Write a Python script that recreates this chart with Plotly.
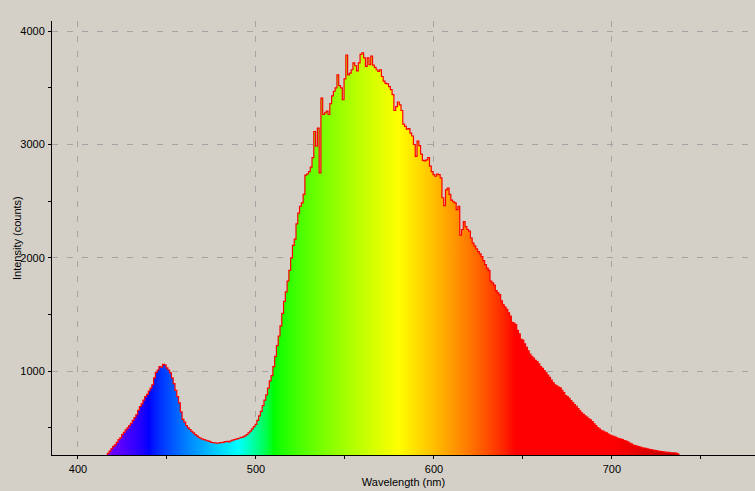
import plotly.graph_objects as go

# Wavelength (nm) and intensity (counts)
wavelength = list(range(416, 739))
intensity = [
    255, 275, 295, 315, 336, 350, 372, 395, 412, 440,            # 416-425
    460, 482, 500, 520, 540, 566, 590, 615, 655, 688,            # 426-435
    712, 745, 775, 795, 825, 850, 880, 940, 990, 1010,           # 436-445
    1040, 1035, 1060, 1055, 1028, 1010, 985, 940, 890, 830,      # 446-455
    775, 720, 640, 575, 550, 520, 500, 485, 468, 455,            # 456-465
    440, 428, 415, 408, 400, 395, 390, 385, 380, 372,            # 466-475
    370, 368, 365, 366, 370, 368, 374, 378, 380, 376,            # 476-485
    384, 392, 396, 400, 405, 410, 415, 420, 428, 440,            # 486-495
    455, 470, 490, 510, 530, 565, 605, 645, 695, 745,            # 496-505
    790, 850, 915, 960, 1040, 1130, 1225, 1310, 1400, 1510,      # 506-515
    1615, 1700, 1795, 1890, 2000, 2110, 2165, 2300, 2395, 2455,  # 516-525
    2485, 2560, 2730, 2740, 2760, 2800, 2885, 3115, 2985, 3145,  # 526-535
    2750, 3410, 3265, 3280, 3295, 3265, 3360, 3430, 3470, 3500,  # 536-545
    3615, 3520, 3500, 3395, 3580, 3790, 3615, 3630, 3660, 3720,  # 546-555
    3695, 3650, 3720, 3795, 3810, 3765, 3690, 3765, 3705, 3780,  # 556-565
    3700, 3680, 3660, 3645, 3660, 3600, 3560, 3540, 3535, 3510,  # 566-575
    3485, 3440, 3300, 3335, 3375, 3350, 3300, 3180, 3160, 3135,  # 576-585
    3140, 3100, 3075, 3000, 2895, 3030, 2990, 2915, 2860, 2855,  # 586-595
    2865, 2885, 2810, 2760, 2735, 2720, 2740, 2735, 2705, 2530,  # 596-605
    2460, 2600, 2615, 2560, 2510, 2495, 2485, 2425, 2455, 2200,  # 606-615
    2250, 2320, 2275, 2250, 2235, 2175, 2130, 2105, 2080, 2055,  # 616-625
    2035, 2010, 1975, 1940, 1910, 1890, 1795, 1780, 1760, 1710,  # 626-635
    1690, 1675, 1620, 1585, 1565, 1545, 1515, 1485, 1430, 1425,  # 636-645
    1410, 1360, 1330, 1280, 1275, 1240, 1210, 1180, 1150, 1130,  # 646-655
    1115, 1095, 1085, 1065, 1040, 1025, 1005, 985, 965, 945,     # 656-665
    920, 898, 880, 870, 860, 852, 830, 810, 785, 775,            # 666-675
    760, 740, 722, 705, 690, 670, 650, 632, 618, 605,            # 676-685
    595, 580, 570, 555, 535, 520, 502, 490, 478, 470,            # 686-695
    462, 455, 445, 435, 428, 424, 418, 410, 404, 400,            # 696-705
    395, 388, 382, 375, 365, 358, 348, 342, 338, 334,            # 706-715
    330, 324, 320, 318, 314, 310, 307, 304, 300, 298,            # 716-725
    295, 292, 290, 287, 285, 284, 283, 280, 279, 278,            # 726-735
    277, 270, 262,                                               # 736-738
]

x_ticks = [400, 500, 600, 700]
y_ticks = [1000, 2000, 3000, 4000]


def wl_rgb(w):
    if w < 440:
        r, g, b = -(w - 440) / 60.0, 0.0, 1.0
    elif w < 490:
        r, g, b = 0.0, (w - 440) / 50.0, 1.0
    elif w < 510:
        r, g, b = 0.0, 1.0, -(w - 510) / 20.0
    elif w < 580:
        r, g, b = (w - 510) / 70.0, 1.0, 0.0
    elif w < 645:
        r, g, b = 1.0, -(w - 645) / 65.0, 0.0
    else:
        r, g, b = 1.0, 0.0, 0.0
    if w < 420:
        f = 0.3 + 0.7 * (w - 380) / 40.0
    elif w > 700:
        f = 0.3 + 0.7 * (780 - w) / 80.0
    else:
        f = 1.0
    c = [int(round(255 * (v * f) ** 0.8)) if v > 0 else 0 for v in (r, g, b)]
    return "rgb(%d,%d,%d)" % tuple(c)


cs = [[(w - 380) / 400.0, wl_rgb(w)] for w in range(380, 781, 2)]

fig = go.Figure()
fig.add_trace(go.Scatter(
    x=wavelength, y=intensity, mode="lines",
    line=dict(color="#ff0000", width=1.2, shape="hvh"),
    fill="tozeroy",
    fillgradient=dict(type="horizontal", colorscale=cs, start=380, stop=780),
    hoverinfo="skip",
))

font = dict(family="Liberation Sans, Arial, sans-serif", size=11, color="#000000")
grid = dict(showgrid=True, gridcolor="#a4a4a4", gridwidth=1, griddash="6px,9px")

fig.update_layout(
    width=755, height=491,
    margin=dict(l=52, r=0, t=21, b=36, autoexpand=False),
    paper_bgcolor="#d4d0c8", plot_bgcolor="#d4d0c8",
    font=font, showlegend=False,
    xaxis=dict(
        range=[385.4, 780.4], tickvals=x_ticks, ticktext=[str(v) for v in x_ticks],
        showline=True, linecolor="#000000", linewidth=1, zeroline=False,
        ticks="", ticklabelstandoff=4, automargin=False,
        minor=dict(ticks="outside", ticklen=3, tickcolor="#000000", tick0=400, dtick=50, showgrid=False),
        title=dict(text="Wavelength (nm)", standoff=4, font=font),
        **grid,
    ),
    yaxis=dict(
        range=[260, 4090], tickvals=y_ticks, ticktext=[str(v) for v in y_ticks],
        showline=True, linecolor="#000000", linewidth=1, zeroline=False,
        ticks="outside", ticklen=3, tickcolor="#000000", automargin=False,
        ticklabelstandoff=1,
        minor=dict(ticks="outside", ticklen=3, tickcolor="#000000", tick0=0, dtick=500, showgrid=False),
        **grid,
    ),
    annotations=[dict(
        text="Intensity (counts)", textangle=-90, showarrow=False,
        xref="paper", yref="paper", x=(17 - 52) / 703.0, y=0.5,
        xanchor="center", yanchor="middle", font=font,
    )],
)

fig.write_html(
    "out.html",
    config={"displayModeBar": False},
    post_script="document.body.style.margin='0px';document.body.style.background='#d4d0c8';",
)
